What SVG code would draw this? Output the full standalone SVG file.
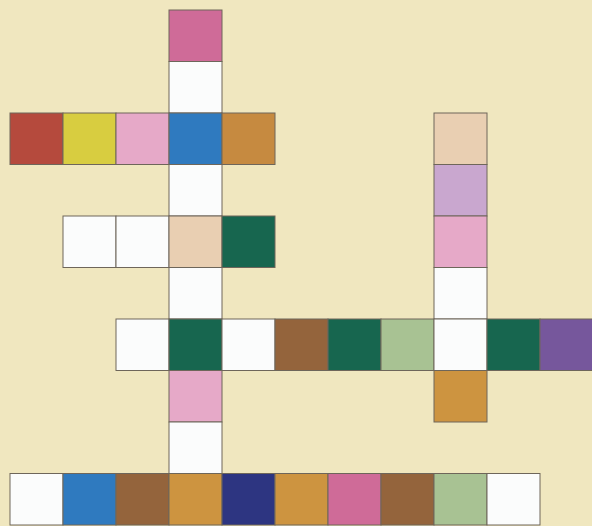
<svg xmlns="http://www.w3.org/2000/svg" width="592" height="526" viewBox="0 0 592 526">
<style>
rect.c{stroke:#6e665a;stroke-width:1}
.w{fill:#fbfcfc}.red{fill:#b54a3d}.yel{fill:#d8cd40}.lp{fill:#e6a9c8}.blu{fill:#2f7abf}.tan{fill:#c68a40}
.pea{fill:#e9cfb2}.dg{fill:#17664f}.br{fill:#94643c}.sg{fill:#a8c293}.pur{fill:#76579c}
.lav{fill:#c9a7cf}.gld{fill:#cd9440}.nav{fill:#2d3581}.pk{fill:#cf6b98}
</style>
<rect width="592" height="526" fill="#f0e7bf"/>
<g id="col3">
<rect class="c pk" x="169" y="10" width="53" height="51.5"/>
<rect class="c w" x="169" y="61.5" width="53" height="51.5"/>
<rect class="c w" x="169" y="164.5" width="53" height="51.5"/>
<rect class="c w" x="169" y="267.5" width="53" height="51.5"/>
<rect class="c lp" x="169" y="370.5" width="53" height="51.5"/>
<rect class="c w" x="169" y="422" width="53" height="51.5"/>
</g>
<g id="row2">
<rect class="c red" x="10" y="113" width="53" height="51.5"/>
<rect class="c yel" x="63" y="113" width="53" height="51.5"/>
<rect class="c lp" x="116" y="113" width="53" height="51.5"/>
<rect class="c blu" x="169" y="113" width="53" height="51.5"/>
<rect class="c tan" x="222" y="113" width="53" height="51.5"/>
</g>
<g id="row4">
<rect class="c w" x="63" y="216" width="53" height="51.5"/>
<rect class="c w" x="116" y="216" width="53" height="51.5"/>
<rect class="c pea" x="169" y="216" width="53" height="51.5"/>
<rect class="c dg" x="222" y="216" width="53" height="51.5"/>
</g>
<g id="col8">
<rect class="c pea" x="434" y="113" width="53" height="51.5"/>
<rect class="c lav" x="434" y="164.5" width="53" height="51.5"/>
<rect class="c lp" x="434" y="216" width="53" height="51.5"/>
<rect class="c w" x="434" y="267.5" width="53" height="51.5"/>
<rect class="c gld" x="434" y="370.5" width="53" height="51.5"/>
</g>
<g id="row6">
<rect class="c w" x="116" y="319" width="53" height="51.5"/>
<rect class="c dg" x="169" y="319" width="53" height="51.5"/>
<rect class="c w" x="222" y="319" width="53" height="51.5"/>
<rect class="c br" x="275" y="319" width="53" height="51.5"/>
<rect class="c dg" x="328" y="319" width="53" height="51.5"/>
<rect class="c sg" x="381" y="319" width="53" height="51.5"/>
<rect class="c w" x="434" y="319" width="53" height="51.5"/>
<rect class="c dg" x="487" y="319" width="53" height="51.5"/>
<rect class="c pur" x="540" y="319" width="53" height="51.5"/>
</g>
<g id="row9">
<rect class="c w" x="10" y="473.5" width="53" height="51.5"/>
<rect class="c blu" x="63" y="473.5" width="53" height="51.5"/>
<rect class="c br" x="116" y="473.5" width="53" height="51.5"/>
<rect class="c gld" x="169" y="473.5" width="53" height="51.5"/>
<rect class="c nav" x="222" y="473.5" width="53" height="51.5"/>
<rect class="c gld" x="275" y="473.5" width="53" height="51.5"/>
<rect class="c pk" x="328" y="473.5" width="53" height="51.5"/>
<rect class="c br" x="381" y="473.5" width="53" height="51.5"/>
<rect class="c sg" x="434" y="473.5" width="53" height="51.5"/>
<rect class="c w" x="487" y="473.5" width="53" height="51.5"/>
</g>
</svg>
